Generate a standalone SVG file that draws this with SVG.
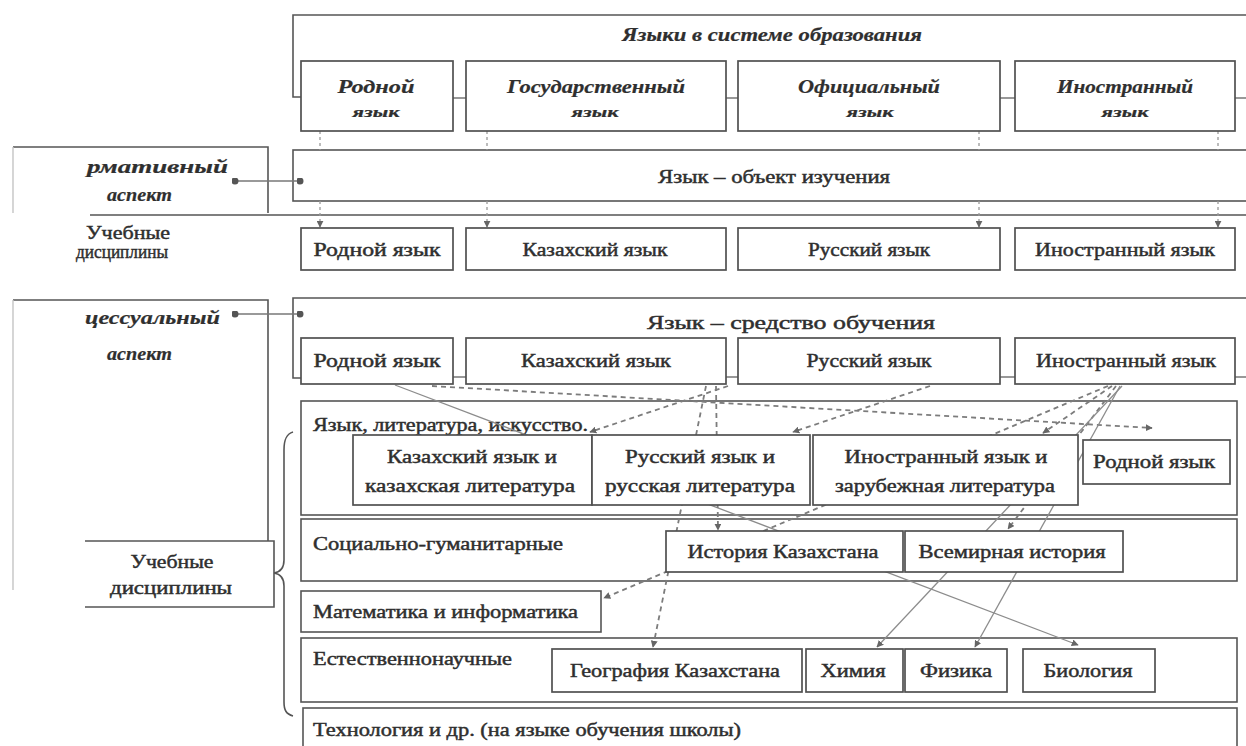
<svg xmlns="http://www.w3.org/2000/svg" width="1246" height="746" viewBox="0 0 1246 746">
<style>
.frame{fill:#fff;stroke:#555;stroke-width:1.6}
.open{fill:none;stroke:#555;stroke-width:1.6}
.faint{fill:none;stroke:#c4c4c4;stroke-width:1.4}
.box{fill:#fff;stroke:#505050;stroke-width:1.7}
.t{font-family:"Liberation Serif","Times New Roman",serif;font-size:18px;fill:#2f2f2f;stroke:#2f2f2f;stroke-width:0.45}
.bi{font-weight:bold;font-style:italic;stroke-width:0.2}
.sm{font-size:14px}
.c{text-anchor:middle}
.solid{fill:none;stroke:#8c8c8c;stroke-width:1.3}
.dash{fill:none;stroke:#7c7c7c;stroke-width:1.8;stroke-dasharray:5 4}
.tick{fill:none;stroke:#777;stroke-width:1.3}
.vd{fill:none;stroke:#999;stroke-width:1.3;stroke-dasharray:3 3}
</style>
<defs>
<marker id="arr" viewBox="0 0 10 10" refX="9" refY="5" markerWidth="7" markerHeight="7" markerUnits="userSpaceOnUse" orient="auto">
<path d="M0,0 L10,5 L0,10 z" fill="#666"/>
</marker>
<marker id="dot" viewBox="0 0 10 10" refX="5" refY="5" markerWidth="7" markerHeight="7" markerUnits="userSpaceOnUse">
<circle cx="5" cy="5" r="5" fill="#555"/>
</marker>
</defs>
<rect width="1246" height="746" fill="#fff"/>

<g id="frames">
<path class="open" d="M301,97 H293 V15 H1246"/>
<rect class="frame" x="293" y="150" width="960" height="51"/>
<path class="open" d="M13,147 H268 V213"/>
<path class="faint" d="M13,147 V213"/>
<path class="open" d="M90,215 H1246"/>
<path class="open" d="M13,300 H268 V541"/>
<path class="faint" d="M13,300 V590"/>
<path class="open" d="M301,378 H293 V298 H1246"/>
<rect class="frame" x="301" y="401" width="936" height="114"/>
<rect class="frame" x="301" y="519" width="936" height="62"/>
<rect class="frame" x="301" y="591" width="300" height="41"/>
<rect class="frame" x="301" y="638" width="936" height="64"/>
<rect class="frame" x="303" y="708" width="934" height="50"/>
<path class="open" d="M293,432 C286,434 284,440 284,450 L284,560 C284,568 281,572 274,573 C281,574 284,578 284,586 L284,702 C284,710 286,714 293,716"/>
</g>

<g id="section-labels">
<text class="t" x="313" y="431" textLength="275" lengthAdjust="spacingAndGlyphs">Язык, литература, искусство.</text>
<text class="t" x="313" y="550" textLength="250" lengthAdjust="spacingAndGlyphs">Социально-гуманитарные</text>
<text class="t" x="313" y="618" textLength="265" lengthAdjust="spacingAndGlyphs">Математика и информатика</text>
<text class="t" x="313" y="665" textLength="199" lengthAdjust="spacingAndGlyphs">Естественнонаучные</text>
<text class="t" x="313" y="736" textLength="428" lengthAdjust="spacingAndGlyphs">Технология и др. (на языке обучения школы)</text>
<text class="t bi c" x="772" y="41" textLength="300" lengthAdjust="spacingAndGlyphs">Языки в системе образования</text>
<text class="t c" x="774" y="183" textLength="232" lengthAdjust="spacingAndGlyphs">Язык – объект изучения</text>
<text class="t c" x="791" y="329" textLength="288" lengthAdjust="spacingAndGlyphs">Язык – средство обучения</text>
</g>

<g id="left-labels">
<text class="t bi" x="87" y="173" textLength="141" lengthAdjust="spacingAndGlyphs">рмативный</text>
<text class="t bi" x="107" y="201" textLength="65" lengthAdjust="spacingAndGlyphs">аспект</text>
<text class="t" x="86" y="239" textLength="84" lengthAdjust="spacingAndGlyphs">Учебные</text>
<text class="t" x="76" y="258" textLength="92" lengthAdjust="spacingAndGlyphs">дисциплины</text>
<text class="t bi" x="85" y="324" textLength="135" lengthAdjust="spacingAndGlyphs">цессуальный</text>
<text class="t bi" x="107" y="360" textLength="65" lengthAdjust="spacingAndGlyphs">аспект</text>
</g>

<g id="connectors">
<path class="vd" d="M320,131 V150 M487,131 V150 M979,131 V150 M1218,131 V150"/>
<path class="vd" d="M320,201 V227" marker-end="url(#arr)"/>
<path class="vd" d="M487,201 V227" marker-end="url(#arr)"/>
<path class="vd" d="M979,201 V227" marker-end="url(#arr)"/>
<path class="vd" d="M1218,201 V227" marker-end="url(#arr)"/>
<path class="tick" d="M453,98 H466 M726,98 H738 M1000,98 H1015 M1235,98 H1246"/>
<path class="tick" d="M453,377 H466 M726,377 H738 M1000,377 H1015 M1235,377 H1246"/>
<path class="tick" d="M235,181 H300" marker-start="url(#dot)" marker-end="url(#dot)"/>
<path class="tick" d="M235,314 H300" marker-start="url(#dot)" marker-end="url(#dot)"/>
<path class="solid" d="M395,385 L1078,645" marker-end="url(#arr)"/>
<path class="dash" d="M432,386 L1152,428" marker-end="url(#arr)"/>
<path class="dash" d="M728,386 L590,432" marker-end="url(#arr)"/>
<path class="dash" d="M716,386 L718,530" marker-end="url(#arr)"/>
<path class="dash" d="M706,386 L653,647" marker-end="url(#arr)"/>
<path class="dash" d="M930,386 L793,432" marker-end="url(#arr)"/>
<path class="dash" d="M1112,386 L1043,433" marker-end="url(#arr)"/>
<path class="dash" d="M1108,386 L604,598" marker-end="url(#arr)"/>
<path class="dash" d="M1116,386 L1008,529" marker-end="url(#arr)"/>
<path class="solid" d="M1122,386 L877,647" marker-end="url(#arr)"/>
<path class="solid" d="M1120,386 L975,647" marker-end="url(#arr)"/>
</g>

<g id="n-rodnoy-status">
<rect class="box" x="301" y="61" width="152" height="70"/>
<text class="t bi c" x="376" y="93" textLength="77" lengthAdjust="spacingAndGlyphs">Родной</text>
<text class="t bi c sm" x="376" y="117" textLength="47" lengthAdjust="spacingAndGlyphs">язык</text>
</g>
<g id="n-gos-status">
<rect class="box" x="466" y="61" width="260" height="70"/>
<text class="t bi c" x="596" y="93" textLength="178" lengthAdjust="spacingAndGlyphs">Государственный</text>
<text class="t bi c sm" x="595" y="117" textLength="47" lengthAdjust="spacingAndGlyphs">язык</text>
</g>
<g id="n-off-status">
<rect class="box" x="738" y="61" width="262" height="70"/>
<text class="t bi c" x="869" y="93" textLength="142" lengthAdjust="spacingAndGlyphs">Официальный</text>
<text class="t bi c sm" x="870" y="117" textLength="47" lengthAdjust="spacingAndGlyphs">язык</text>
</g>
<g id="n-in-status">
<rect class="box" x="1015" y="61" width="220" height="70"/>
<text class="t bi c" x="1125" y="93" textLength="136" lengthAdjust="spacingAndGlyphs">Иностранный</text>
<text class="t bi c sm" x="1125" y="117" textLength="47" lengthAdjust="spacingAndGlyphs">язык</text>
</g>

<g id="n-obj-rodnoy">
<rect class="box" x="301" y="228" width="152" height="42"/>
<text class="t c" x="377" y="256" textLength="127" lengthAdjust="spacingAndGlyphs">Родной язык</text>
</g>
<g id="n-obj-kaz">
<rect class="box" x="466" y="228" width="260" height="42"/>
<text class="t c" x="595" y="256" textLength="145" lengthAdjust="spacingAndGlyphs">Казахский язык</text>
</g>
<g id="n-obj-rus">
<rect class="box" x="738" y="228" width="262" height="42"/>
<text class="t c" x="869" y="256" textLength="122" lengthAdjust="spacingAndGlyphs">Русский язык</text>
</g>
<g id="n-obj-in">
<rect class="box" x="1015" y="228" width="220" height="42"/>
<text class="t c" x="1125" y="256" textLength="180" lengthAdjust="spacingAndGlyphs">Иностранный язык</text>
</g>

<g id="n-med-rodnoy">
<rect class="box" x="301" y="338" width="152" height="46"/>
<text class="t c" x="377" y="367" textLength="127" lengthAdjust="spacingAndGlyphs">Родной язык</text>
</g>
<g id="n-med-kaz">
<rect class="box" x="466" y="338" width="260" height="46"/>
<text class="t c" x="596" y="367" textLength="150" lengthAdjust="spacingAndGlyphs">Казахский язык</text>
</g>
<g id="n-med-rus">
<rect class="box" x="738" y="338" width="262" height="46"/>
<text class="t c" x="869" y="367" textLength="125" lengthAdjust="spacingAndGlyphs">Русский язык</text>
</g>
<g id="n-med-in">
<rect class="box" x="1015" y="338" width="220" height="46"/>
<text class="t c" x="1126" y="367" textLength="180" lengthAdjust="spacingAndGlyphs">Иностранный язык</text>
</g>

<g id="n-kaz-lit">
<rect class="box" x="353" y="435" width="239" height="70"/>
<text class="t c" x="472" y="463" textLength="170" lengthAdjust="spacingAndGlyphs">Казахский язык и</text>
<text class="t c" x="470" y="492" textLength="210" lengthAdjust="spacingAndGlyphs">казахская литература</text>
</g>
<g id="n-rus-lit">
<rect class="box" x="592" y="435" width="218" height="70"/>
<text class="t c" x="700" y="463" textLength="150" lengthAdjust="spacingAndGlyphs">Русский язык и</text>
<text class="t c" x="700" y="492" textLength="190" lengthAdjust="spacingAndGlyphs">русская литература</text>
</g>
<g id="n-in-lit">
<rect class="box" x="813" y="435" width="265" height="70"/>
<text class="t c" x="946" y="463" textLength="203" lengthAdjust="spacingAndGlyphs">Иностранный язык и</text>
<text class="t c" x="945" y="492" textLength="220" lengthAdjust="spacingAndGlyphs">зарубежная литература</text>
</g>
<g id="n-rodnoy-lit">
<rect class="box" x="1083" y="440" width="147" height="44"/>
<text class="t c" x="1154" y="468" textLength="122" lengthAdjust="spacingAndGlyphs">Родной язык</text>
</g>

<g id="n-hist-kz">
<rect class="box" x="666" y="531" width="237" height="41"/>
<text class="t c" x="783" y="558" textLength="191" lengthAdjust="spacingAndGlyphs">История Казахстана</text>
</g>
<g id="n-hist-world">
<rect class="box" x="905" y="531" width="218" height="41"/>
<text class="t c" x="1012" y="558" textLength="187" lengthAdjust="spacingAndGlyphs">Всемирная история</text>
</g>

<g id="n-geo">
<rect class="box" x="552" y="649" width="250" height="43"/>
<text class="t c" x="675" y="677" textLength="210" lengthAdjust="spacingAndGlyphs">География Казахстана</text>
</g>
<g id="n-chem">
<rect class="box" x="806" y="649" width="97" height="43"/>
<text class="t c" x="853" y="677" textLength="65" lengthAdjust="spacingAndGlyphs">Химия</text>
</g>
<g id="n-phys">
<rect class="box" x="905" y="649" width="102" height="43"/>
<text class="t c" x="956" y="677" textLength="72" lengthAdjust="spacingAndGlyphs">Физика</text>
</g>
<g id="n-bio">
<rect class="box" x="1023" y="649" width="132" height="43"/>
<text class="t c" x="1088" y="677" textLength="89" lengthAdjust="spacingAndGlyphs">Биология</text>
</g>

<g id="n-disc">
<path class="open" d="M85,541 H274 V607 H85"/>
<rect x="86" y="542" width="187" height="64" fill="#fff"/>
<text class="t c" x="172" y="568" textLength="83" lengthAdjust="spacingAndGlyphs">Учебные</text>
<text class="t c" x="171" y="594" textLength="122" lengthAdjust="spacingAndGlyphs">дисциплины</text>
</g>
</svg>
